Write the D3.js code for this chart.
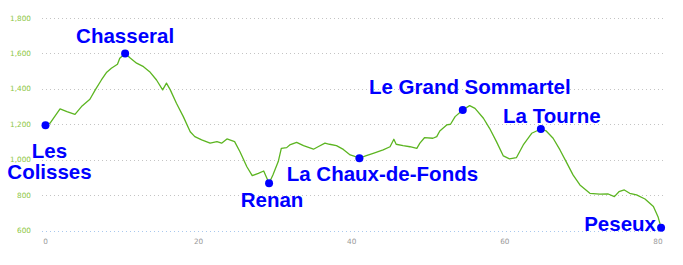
<!DOCTYPE html>
<html>
<head>
<meta charset="utf-8">
<script src="https://cdn.jsdelivr.net/npm/d3@7"></script>
<style>
  body { margin: 0; background: #fff; }
</style>
</head>
<body>
<div id="chart"></div>
<script>
// elevation profile (km along route, metres)
var distKm = [0, 0.6, 1.9, 2.8, 3.85, 4.7, 5.8, 6.5, 7.3, 8.0, 8.6, 9.4, 9.7, 10.4, 11.1, 11.9, 12.8, 13.6, 14.5, 15.3,
  15.8, 16.3, 17.1, 18.0, 18.9, 19.5, 20.4, 21.5, 22.4, 23.0, 23.7, 24.7, 25.4, 26.3, 27.0, 27.8, 28.5, 29.2, 29.7, 30.4,
  30.8, 31.5, 31.9, 32.8, 33.7, 35.0, 35.6, 36.5, 37.1, 38.0, 38.9, 39.8, 40.3, 41.0, 41.9, 42.8, 44.1, 45.0, 45.5, 45.8,
  46.7, 47.6, 48.5, 48.9, 49.5, 50.6, 51.1, 51.5, 52.4, 52.9, 53.5, 54.5, 55.4, 56.1, 57.2, 58.0, 58.9, 59.8, 60.6, 61.5,
  62.4, 63.5, 64.7, 65.4, 66.3, 67.2, 68.0, 68.9, 69.8, 71.1, 72.4, 73.5, 74.3, 74.9, 75.6, 76.3, 77.2, 78.3, 79.4, 80.0, 80.4];
var elevM = [1195, 1206, 1287, 1271, 1256, 1300, 1341, 1394, 1450, 1494, 1516, 1539, 1573, 1600, 1573, 1545, 1525, 1497, 1450, 1394,
  1432, 1394, 1319, 1243, 1158, 1130, 1112, 1093, 1102, 1093, 1117, 1102, 1045, 960, 910, 923, 936, 867, 913, 989,
  1064, 1068, 1083, 1098, 1079, 1059, 1073, 1093, 1087, 1079, 1058, 1027, 1020, 1008, 1023, 1036, 1055, 1073, 1115, 1087,
  1079, 1073, 1064, 1093, 1124, 1121, 1130, 1162, 1196, 1200, 1243, 1281, 1305, 1290, 1234, 1177, 1102, 1021, 1004, 1011,
  1083, 1149, 1173, 1162, 1121, 1055, 989, 914, 857, 810, 805, 806, 791, 819, 829, 810, 801, 778, 735, 678, 616];

// named stops
var placeNames = ["Les Colisses", "Chasseral", "Renan", "La Chaux-de-Fonds", "Le Grand Sommartel", "La Tourne", "Peseux"];
var placeKm = [0, 10.4, 29.2, 41.0, 54.5, 64.7, 80.4];
var placeElev = [1195, 1600, 867, 1008, 1281, 1173, 616];

// ticks
var yTicks = [600, 800, 1000, 1200, 1400, 1600, 1800];
var xTicks = [0, 20, 40, 60, 80];

// label offsets from the dot (px): dx to text centre, dy to baseline
var labelOffsets = [[4, 32.6], [0, -10], [3, 24], [23, 22.4], [7, -15.7], [11, -5.7], [-41, 3]];

var svgWidth = 683;
var svgHeight = 265;
var margin = { top: 18, left: 45.5 };
var chartWidth = 612.5;
var chartHeight = 212.5;

var svg = d3.select("#chart").append("svg")
  .attr("width", svgWidth)
  .attr("height", svgHeight);

var g = svg.append("g")
  .attr("transform", `translate(${margin.left}, ${margin.top})`);

var x = d3.scaleLinear().domain([0, 80]).range([0, chartWidth]);
var y = d3.scaleLinear().domain([600, 1800]).range([chartHeight, 0]);

// grid lines
g.selectAll(".grid").data(yTicks).enter().append("line")
  .attr("x1", -3.5).attr("x2", 617.5)
  .attr("y1", d => Math.round(y(d)) + 0.5)
  .attr("y2", d => Math.round(y(d)) + 0.5)
  .attr("stroke", d => d === 600 ? "#a9c8ee" : "#c4c4c4")
  .attr("stroke-width", 1)
  .attr("stroke-dasharray", "1,3");

// y tick labels
g.selectAll(".ylab").data(yTicks).enter().append("text")
  .attr("x", -14.5)
  .attr("y", d => y(d) + 2.6)
  .attr("text-anchor", "end")
  .attr("font-family", "DejaVu Sans, Verdana, sans-serif")
  .attr("font-size", "7.3px")
  .attr("fill", "#8cc63f")
  .text(d => d3.format(",")(d));

// x tick labels
g.selectAll(".xlab").data(xTicks).enter().append("text")
  .attr("x", d => x(d))
  .attr("y", chartHeight + 13)
  .attr("text-anchor", "middle")
  .attr("font-family", "DejaVu Sans, Verdana, sans-serif")
  .attr("font-size", "7.3px")
  .attr("fill", "#999")
  .text(d => d);

// profile line
var pts = distKm.map((d, i) => [d, elevM[i]]);
var line = d3.line()
  .x(d => x(d[0]))
  .y(d => y(d[1]));

g.append("path")
  .datum(pts)
  .attr("d", line)
  .attr("fill", "none")
  .attr("stroke", "#5cb521")
  .attr("stroke-width", 1.3)
  .attr("stroke-linejoin", "round");

// stop markers
var stops = placeNames.map((n, i) => ({ name: n, km: placeKm[i], elev: placeElev[i], off: labelOffsets[i] }));

g.selectAll(".dot").data(stops).enter().append("circle")
  .attr("cx", d => x(d.km))
  .attr("cy", d => y(d.elev))
  .attr("r", 4)
  .attr("fill", "#0000ff");

var labels = g.selectAll(".lbl").data(stops).enter().append("text")
  .attr("x", d => x(d.km) + d.off[0])
  .attr("y", d => y(d.elev) + d.off[1])
  .attr("text-anchor", "middle")
  .attr("font-family", "Liberation Sans, Arial, sans-serif")
  .attr("font-weight", "bold")
  .attr("font-size", "20.5px")
  .attr("fill", "#0000ff");

// "Les Colisses" splits on two lines
labels.each(function(d) {
  var words = d.name === "Les Colisses" ? ["Les", "Colisses"] : [d.name];
  var t = d3.select(this);
  words.forEach((w, i) => {
    t.append("tspan")
      .attr("x", x(d.km) + d.off[0])
      .attr("dy", i === 0 ? 0 : 21)
      .text(w);
  });
});
</script>
</body>
</html>
